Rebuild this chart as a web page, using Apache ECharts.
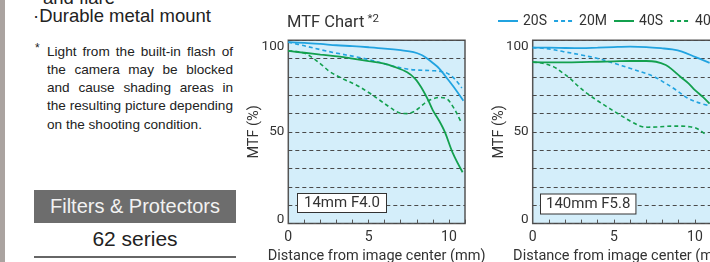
<!DOCTYPE html>
<html>
<head>
<meta charset="utf-8">
<script src="https://cdn.jsdelivr.net/npm/echarts@6/dist/echarts.min.js"></script>
<style>
  html, body { margin: 0; padding: 0; background: #fff; }
  #page { position: relative; width: 710px; height: 262px; overflow: hidden; background: #fff; font-family: "Liberation Sans", Arial, sans-serif; }
  #strip { position: absolute; left: 0; top: 0; width: 5px; height: 262px; background: #aaa3a0; }
  .t { position: absolute; white-space: nowrap; color: #222; }
  .jl { position: absolute; left: 47px; width: 186px; font-size: 13.6px; color: #222; line-height: 18px; height: 18px; overflow: visible; white-space: nowrap; text-align: justify; text-align-last: justify; }
  .jl.last { text-align-last: left; }
  #fbox { position: absolute; left: 34px; top: 190px; width: 202px; height: 33px; background: #6d6d6d; color: #f2f2f2; font-size: 20px; line-height: 33px; text-align: center; }
  #series62 { position: absolute; left: 34px; top: 226px; width: 202px; text-align: center; font-size: 21px; line-height: 26px; color: #222; }
  #uline { position: absolute; left: 34px; top: 255.5px; width: 202px; height: 2px; background: #666; }
  #chart { position: absolute; left: 0; top: 0; width: 710px; height: 262px; }
</style>
</head>
<body>
<div id="page">
  <div id="strip"></div>
  <div class="t" style="left:43px; top:-13px; font-size:18.5px; line-height:22px;">and flare</div>
  <div class="t" style="left:33px; top:5px; font-size:18.5px; line-height:22px;">·Durable metal mount</div>
  <div class="t" style="left:35px; top:41px; font-size:12px; line-height:14px;">*</div>
  <div class="jl" style="top:42.5px;">Light from the built-in flash of</div>
  <div class="jl" style="top:60.8px;">the camera may be blocked</div>
  <div class="jl" style="top:79.1px;">and cause shading areas in</div>
  <div class="jl" style="top:97.4px;">the resulting picture depending</div>
  <div class="jl last" style="top:115.7px;">on the shooting condition.</div>
  <div id="fbox">Filters &amp; Protectors</div>
  <div id="series62">62 series</div>
  <div id="uline"></div>
  <div id="chart"></div>
</div>
<script>
// ---- data ----
const seriesNames = ['20S', '20M', '40S', '40M'];
const xTickLabels = [0, 5, 10];
const yTickLabels = [0, 50, 100];
const chartTitle = 'MTF Chart';
const titleNote = '*2';
const yAxisName = 'MTF (%)';
const xAxisName = 'Distance from image center (mm)';
const lensLabels = ['14mm F4.0', '140mm F5.8'];

// 14mm F4.0
const wide20S = [[0,99],[1,98.6],[2,98],[3,97.3],[4,96.8],[5,96.2],[6,95.5],[7,94.6],[7.8,93.6],[8.3,92],[8.6,90.3],[9.0,87.6],[9.4,84.6],[9.8,80.2],[10.3,74.5],[10.9,67]];
const wide20M = [[0,99],[1,97],[2.1,94.7],[3,93],[4.2,91],[5,89.5],[5.9,87.4],[6.5,86],[7.4,84.3],[8,83.8],[9,83.4],[9.5,83],[10,81.5],[10.4,78.5],[10.8,74]];
const wide40S = [[0,94.2],[1,93.2],[2,92.2],[3.2,91.1],[4,90],[5,88.6],[5.9,87.4],[6.6,85.5],[7.4,82.6],[7.9,79],[8.3,74],[8.7,67.5],[9.0,61.8],[9.4,56],[9.75,49.9],[10.25,38.3],[10.85,28]];
const wide40M = [[0,94.2],[0.6,93.8],[1.1,92.6],[1.5,90.5],[2.1,86.5],[2.6,82.8],[3.4,79],[4.25,75.5],[5,71.5],[5.7,67.3],[6.4,63],[6.95,60.3],[7.4,60],[7.8,61],[8.2,63.5],[8.6,66.4],[9.0,68],[9.35,68.8],[9.85,68.2],[10.2,64.5],[10.5,60],[10.8,54.5]];

// 140mm F5.8
const tele20S = [[0,96],[1,96],[2,95.8],[3,95.7],[4,96],[5,96.3],[6,96.5],[7,96.3],[8,95.6],[8.6,95],[9.2,93.8],[10,91],[10.9,87.7]];
const tele20M = [[0,96],[1,95.3],[1.9,93.8],[3,92],[4,90.1],[5,87.5],[6,84.7],[7,81.8],[7.5,80.1],[8.1,77],[8.7,73.7],[9.6,68.2],[10.2,66],[10.8,64.5]];
const tele40S = [[0,88.1],[1,88],[2,88],[3,88.1],[4,88.3],[5,88.5],[6,88.7],[7,88.7],[7.6,88.3],[8.2,86.5],[8.6,84],[9.1,80.1],[9.6,76.5],[10,72.8],[10.5,69],[10.9,65.4]];
const tele40M = [[0,88.1],[0.6,87.5],[1.3,85.5],[1.8,82.5],[2.3,79.2],[2.8,75],[3.35,71],[4,67],[4.6,63.6],[5.1,60.8],[5.6,58.1],[6.1,55.5],[6.7,53],[7.1,52.6],[7.6,52.7],[8.1,53],[8.6,53.2],[9.2,53.2],[9.6,52.9],[10,52.3],[10.3,51],[10.6,49]];

// ---- styles ----
const BLUE = '#21a3e0';
const GREEN = '#13a04e';
const FONT = 'Roboto';
const TXT = '#333';

function lineSeries(name, data, color, dashed, idx) {
  return {
    name: name, type: 'line', data: data,
    xAxisIndex: idx, yAxisIndex: idx,
    smooth: 0.35, showSymbol: false, symbol: 'none',
    lineStyle: { color: color, width: dashed ? 1.6 : 1.8, type: dashed ? [4, 3] : 'solid' },
    itemStyle: { color: color },
    z: 3
  };
}

function xAxisCfg(idx) {
  return {
    gridIndex: idx, type: 'value', min: 0, max: 11, interval: 1,
    name: xAxisName, nameLocation: 'middle', nameGap: 25, nameMoveOverlap: false,
    nameTextStyle: { fontFamily: FONT, fontSize: 14.5, color: TXT },
    axisLine: { show: false },
    axisTick: { show: true, inside: true, length: 4, lineStyle: { color: '#555', width: 1 } },
    axisLabel: { customValues: xTickLabels, fontFamily: FONT, fontSize: 14, color: TXT, margin: 7 },
    splitLine: { show: false }
  };
}

function yAxisCfg(idx) {
  return {
    gridIndex: idx, type: 'value', min: 0, max: 100, interval: 10,
    name: yAxisName, nameLocation: 'middle', nameGap: 26, nameRotate: 90, nameMoveOverlap: false,
    nameTextStyle: { fontFamily: FONT, fontSize: 14.5, color: TXT },
    axisLine: { show: false },
    axisTick: { show: false },
    axisLabel: {
      customValues: yTickLabels, fontFamily: FONT, fontSize: 13.5, color: TXT, margin: 4,
      formatter: function (v) {
        if (v === 100) return '{t|' + v + '}';
        if (v === 0) return '{b|' + v + '}';
        return '' + v;
      },
      rich: {
        t: { fontFamily: FONT, fontSize: 13.5, color: TXT, padding: [12, 0, 0, 0] },
        b: { fontFamily: FONT, fontSize: 13.5, color: TXT, padding: [0, 0, 8, 0] }
      }
    },
    splitLine: { show: true, lineStyle: { color: '#4a4a4a', width: 1, type: [4, 3] } }
  };
}

const gridBase = { show: true, backgroundColor: '#d4eefa', borderColor: '#555', borderWidth: 1.5, containLabel: false, outerBoundsMode: 'none' };

const chart = echarts.init(document.getElementById('chart'), null, { renderer: 'canvas' });
chart.setOption({
  animation: false,
  backgroundColor: 'transparent',
  title: {
    text: '{a|' + chartTitle + '}{b|' + titleNote + '}',
    left: 287, top: 12, padding: 0,
    textStyle: {
      fontWeight: 'normal',
      rich: {
        a: { fontFamily: FONT, fontSize: 16.5, fontWeight: 'normal', color: TXT, lineHeight: 22 },
        b: { fontFamily: FONT, fontSize: 11.5, fontWeight: 'normal', color: TXT, padding: [0, 0, 8, 3] }
      }
    }
  },
  legend: {
    data: seriesNames, left: 497, top: 14, padding: 0, width: 320,
    itemWidth: 20, itemHeight: 14, itemGap: 6,
    itemStyle: { opacity: 0 },
    textStyle: { fontFamily: FONT, fontSize: 14, color: TXT }
  },
  grid: [
    Object.assign({ left: 288.3, top: 40.3, width: 176.7, height: 183.3 }, gridBase),
    Object.assign({ left: 532.7, top: 40.3, width: 178.5, height: 183.3 }, gridBase)
  ],
  xAxis: [xAxisCfg(0), xAxisCfg(1)],
  yAxis: [yAxisCfg(0), yAxisCfg(1)],
  series: [
    lineSeries('20S', wide20S, BLUE, false, 0),
    lineSeries('20M', wide20M, BLUE, true, 0),
    lineSeries('40S', wide40S, GREEN, false, 0),
    lineSeries('40M', wide40M, GREEN, true, 0),
    lineSeries('20S', tele20S, BLUE, false, 1),
    lineSeries('20M', tele20M, BLUE, true, 1),
    lineSeries('40S', tele40S, GREEN, false, 1),
    lineSeries('40M', tele40M, GREEN, true, 1)
  ],
  graphic: [
    { type: 'text', left: 297, top: 193, z: 10,
      style: { text: lensLabels[0], fontFamily: FONT, fontSize: 15, fill: TXT, backgroundColor: '#fff', borderColor: '#333', borderWidth: 1, padding: [2, 6, 1, 6] } },
    { type: 'text', left: 540, top: 193.5, z: 10,
      style: { text: lensLabels[1], fontFamily: FONT, fontSize: 15, fill: TXT, backgroundColor: '#fff', borderColor: '#333', borderWidth: 1, padding: [2, 5, 2, 5] } }
  ]
});
</script>
</body>
</html>
